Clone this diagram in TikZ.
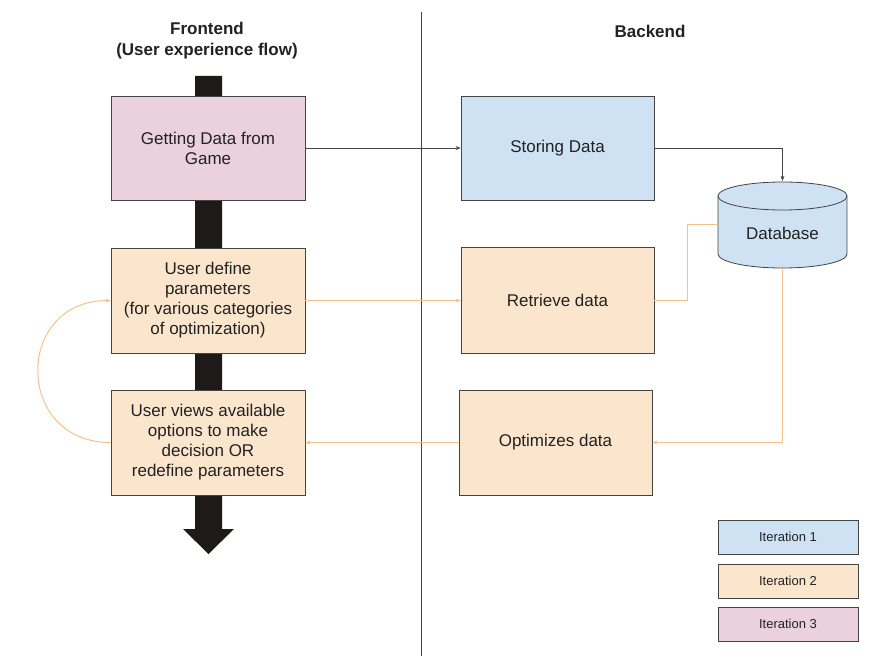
\documentclass[tikz,border=0pt]{standalone}
\usepackage{fontspec}
\setmainfont{Liberation Sans}
\usetikzlibrary{arrows.meta}
\definecolor{pinkfill}{HTML}{EAD1DC}
\definecolor{bluefill}{HTML}{CFE2F3}
\definecolor{orangefill}{HTML}{FCE5CD}
\definecolor{orangecol}{HTML}{F5C28F}
\definecolor{darkline}{HTML}{444444}
\definecolor{txt}{HTML}{222222}
\definecolor{flowblack}{HTML}{1E1A17}
\begin{document}
\begin{tikzpicture}[x=1pt,y=-1pt,
  box/.style={draw=darkline,line width=0.8pt,align=center,text=txt,font=\fontsize{17}{20}\selectfont,inner sep=0pt},
  legendbox/.style={box,font=\fontsize{13}{16}\selectfont,minimum width=140pt,minimum height=34pt},
  title/.style={align=center,text=txt,font=\bfseries\fontsize{17}{21}\selectfont},
  greyarrow/.style={draw=darkline,line width=0.6pt,-{Stealth[length=5pt,width=4pt]}},
  orangearrow/.style={draw=orangecol,line width=1pt,-{Stealth[length=5pt,width=4pt]}}]
\useasboundingbox (0,0) rectangle (880,660);
\fill[white] (0,0) rectangle (880,660);

% titles
\node[title] (front) at (207,41) {Frontend\\(User experience flow)};
\node[title] (back) at (650,31) {Backend};

% divider
\coordinate (divtop) at (421,12);
\coordinate (divbot) at (421,656);
\draw[darkline,line width=1pt] (divtop) -- (divbot);

% big black flow arrow
\fill[flowblack] (195,76) -- (222,76) -- (222,529) -- (234,529) -- (208.5,554) -- (183,529) -- (195,529) -- cycle;

% frontend boxes
\node[box,fill=pinkfill,minimum width=194pt,minimum height=104pt] (get) at (208,148) {Getting Data from\\Game};
\node[box,fill=orangefill,minimum width=194pt,minimum height=105pt] (param) at (208,300.5) {User define\\parameters\\(for various categories\\of optimization)};
\node[box,fill=orangefill,minimum width=194pt,minimum height=105pt] (view) at (208,442.5) {User views available\\options to make\\decision OR\\redefine parameters};

% backend boxes
\node[box,fill=bluefill,minimum width=193pt,minimum height=104pt] (store) at (557.5,148) {Storing Data};
\node[box,fill=orangefill,minimum width=193pt,minimum height=106pt] (ret) at (557.5,300.5) {Retrieve data};
\node[box,fill=orangefill,minimum width=193pt,minimum height=105pt] (opt) at (555.5,442.5) {Optimizes data};

% database cylinder
\fill[bluefill] (718,196) rectangle (847,254);
\fill[bluefill] (782.5,254) ellipse [x radius=64.5pt, y radius=14pt];
\fill[bluefill] (782.5,196) ellipse [x radius=64.5pt, y radius=14pt];
\draw[darkline,line width=0.8pt] (782.5,196) ellipse [x radius=64.5pt, y radius=14pt];
\draw[darkline,line width=0.8pt] (718,196) -- (718,254) arc[start angle=180,end angle=360,x radius=64.5pt,y radius=14pt] -- (847,196);
\node[inner sep=0pt,minimum width=129pt,minimum height=87pt] (db) at (782.5,224.5) {};
\node[text=txt,font=\fontsize{17}{20}\selectfont] (dblabel) at (782.5,233) {Database};

% legend
\node[legendbox,fill=bluefill] (it1) at (788,537) {Iteration 1};
\node[legendbox,fill=orangefill] (it2) at (788,581) {Iteration 2};
\node[legendbox,fill=pinkfill] (it3) at (788,624) {Iteration 3};

% connectors
\draw[greyarrow] (get.east) -- (store.west);
\draw[greyarrow] (store.east) -| (db.north);
\draw[orangearrow] (param.east) -- (ret.west);
\draw[orangearrow,-] (ret.east) -- ([xshift=33.5pt]ret.east) |- (db.west);
\draw[orangearrow] (db.south) |- (opt.east);
\draw[orangearrow] (opt.west) -- (view.east);
\draw[orangearrow] (view.west) .. controls (14,442.5) and (14,300.5) .. (param.west);
\end{tikzpicture}
\end{document}
